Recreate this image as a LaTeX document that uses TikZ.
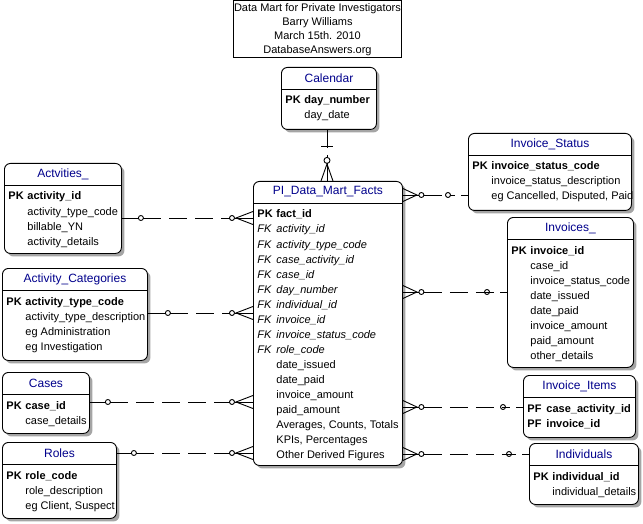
\documentclass[tikz,border=0pt]{standalone}
\usepackage{fontspec}
\setmainfont{Liberation Sans}
\usetikzlibrary{shadows,calc}
\definecolor{hdr}{RGB}{0,0,140}
\definecolor{shadowgray}{RGB}{165,165,165}
\newcommand{\rowfont}{\fontsize{11}{13}\selectfont}
\newcommand{\entity}[6]{%
  \node[entbox, minimum width=#4pt, minimum height=#5pt] (#1) at (#2,#3) {};
  \draw ([yshift=-22pt]#1.north west) -- ([yshift=-22pt]#1.north east);
  \node[enttitle] (#1-t) at ([yshift=-11pt]#1.north) {#6};
}
\newcommand{\keyrow}[5]{% box, index, key, name, font
  \node[rowtxt, font=\rowfont#5] (#1-k#2) at ([xshift=4pt, yshift={-22pt-15pt*#2}]#1.north west) {#3};
  \node[rowtxt, font=\rowfont#5] (#1-r#2) at ([xshift=23pt, yshift={-22pt-15pt*#2}]#1.north west) {#4};
}
\newcommand{\plainrow}[3]{% box, index, name
  \node[rowtxt, font=\rowfont] (#1-r#2) at ([xshift=23pt, yshift={-22pt-15pt*#2}]#1.north west) {#3};
}
% relation: parent on left, facts on right
\newcommand{\lrel}[3]{% parent, y coordinate, parent circle offset
  \coordinate (pa) at (#1.east |- #2);
  \coordinate (ch) at (facts.west |- #2);
  \draw (pa) -- ([xshift={#3pt-2.5pt}]pa);
  \draw ([xshift=#3pt]pa) circle[radius=2.5pt];
  \draw[reldash] ([xshift={#3pt+2.5pt}]pa) -- ([xshift=-23.5pt]ch);
  \draw ([xshift=-21pt]ch) circle[radius=2.5pt];
  \draw ([xshift=-18.5pt]ch) -- (ch);
  \draw ([yshift=6.5pt]ch) -- ([xshift=-17pt]ch) -- ([yshift=-6.5pt]ch);
}
% relation: facts on left, parent on right
\newcommand{\rrel}[2]{% parent, y coordinate
  \coordinate (ch) at (facts.east |- #2);
  \coordinate (pa) at (#1.west |- #2);
  \draw ([yshift=6.5pt]ch) -- ([xshift=14pt]ch) -- ([yshift=-6.5pt]ch);
  \draw (ch) -- ([xshift=16pt]ch);
  \draw ([xshift=18.5pt]ch) circle[radius=2.5pt];
  \draw[reldash] ([xshift=21pt]ch) -- ([xshift=-13pt]pa);
  \draw ([xshift=-20pt]pa) circle[radius=2.5pt];
  \draw ([xshift=-7pt]pa) -- (pa);
}
\begin{document}
\begin{tikzpicture}[x=1pt,y=-1pt,
  line width=0.9pt,
  entbox/.style={draw, rounded corners=6pt, fill=white, inner sep=0pt, anchor=north west,
    drop shadow={shadow xshift=3pt, shadow yshift=-3pt, fill=shadowgray, opacity=1}},
  enttitle/.style={text=hdr, font=\fontsize{12}{14}\selectfont, inner sep=0pt},
  rowtxt/.style={anchor=base west, inner sep=0pt},
  titlebox/.style={draw, fill=white, anchor=north west, inner sep=0pt, align=center,
    font=\fontsize{11}{14}\selectfont},
  reldash/.style={dash pattern=on 18pt off 8pt}]
\useasboundingbox (0,0) rectangle (643,524);
\fill[white] (0,0) rectangle (643,524);

\node[titlebox, minimum width=168pt, minimum height=57pt] (title) at (233,0.5)
  {Data Mart for Private Investigators\\Barry Williams\\March 15th. 2010\\DatabaseAnswers.org};

% entities
\entity{cal}{281}{67}{95}{62}{Calendar}
\keyrow{cal}{1}{PK}{day\_number}{\bfseries}
\plainrow{cal}{2}{day\_date}

\entity{act}{4}{163}{117}{90}{Actvities\_}
\keyrow{act}{1}{PK}{activity\_id}{\bfseries}
\plainrow{act}{2}{activity\_type\_code}
\plainrow{act}{3}{billable\_YN}
\plainrow{act}{4}{activity\_details}

\entity{facts}{253}{181}{149}{284}{PI\_Data\_Mart\_Facts}
\keyrow{facts}{1}{PK}{fact\_id}{\bfseries}
\keyrow{facts}{2}{FK}{activity\_id}{\itshape}
\keyrow{facts}{3}{FK}{activity\_type\_code}{\itshape}
\keyrow{facts}{4}{FK}{case\_activity\_id}{\itshape}
\keyrow{facts}{5}{FK}{case\_id}{\itshape}
\keyrow{facts}{6}{FK}{day\_number}{\itshape}
\keyrow{facts}{7}{FK}{individual\_id}{\itshape}
\keyrow{facts}{8}{FK}{invoice\_id}{\itshape}
\keyrow{facts}{9}{FK}{invoice\_status\_code}{\itshape}
\keyrow{facts}{10}{FK}{role\_code}{\itshape}
\plainrow{facts}{11}{date\_issued}
\plainrow{facts}{12}{date\_paid}
\plainrow{facts}{13}{invoice\_amount}
\plainrow{facts}{14}{paid\_amount}
\plainrow{facts}{15}{Averages, Counts, Totals}
\plainrow{facts}{16}{KPIs, Percentages}
\plainrow{facts}{17}{Other Derived Figures}

\entity{ist}{468}{133}{163}{77}{Invoice\_Status}
\keyrow{ist}{1}{PK}{invoice\_status\_code}{\bfseries}
\plainrow{ist}{2}{invoice\_status\_description}
\plainrow{ist}{3}{eg Cancelled, Disputed, Paid}

\entity{inv}{507}{217}{126}{150}{Invoices\_}
\keyrow{inv}{1}{PK}{invoice\_id}{\bfseries}
\plainrow{inv}{2}{case\_id}
\plainrow{inv}{3}{invoice\_status\_code}
\plainrow{inv}{4}{date\_issued}
\plainrow{inv}{5}{date\_paid}
\plainrow{inv}{6}{invoice\_amount}
\plainrow{inv}{7}{paid\_amount}
\plainrow{inv}{8}{other\_details}

\entity{acat}{2}{268}{145}{92}{Activity\_Categories}
\keyrow{acat}{1}{PK}{activity\_type\_code}{\bfseries}
\plainrow{acat}{2}{activity\_type\_description}
\plainrow{acat}{3}{eg Administration}
\plainrow{acat}{4}{eg Investigation}

\entity{cases}{2}{372}{87}{61}{Cases}
\keyrow{cases}{1}{PK}{case\_id}{\bfseries}
\plainrow{cases}{2}{case\_details}

\entity{roles}{2}{442}{114}{76}{Roles}
\keyrow{roles}{1}{PK}{role\_code}{\bfseries}
\plainrow{roles}{2}{role\_description}
\plainrow{roles}{3}{eg Client, Suspect}

\entity{items}{523}{375}{112}{62}{Invoice\_Items}
\keyrow{items}{1}{PF}{case\_activity\_id}{\bfseries}
\keyrow{items}{2}{PF}{invoice\_id}{\bfseries}

\entity{indiv}{529}{443}{109}{61}{Individuals}
\keyrow{indiv}{1}{PK}{individual\_id}{\bfseries}
\plainrow{indiv}{2}{individual\_details}

% calendar relation (vertical)
\coordinate (cx) at (327,0);
\coordinate (ctop) at (cal.south -| cx);
\coordinate (cbot) at (facts.north -| cx);
\draw (ctop) -- ([yshift=-18pt]ctop);
\draw ([xshift=-6pt,yshift=-17pt]ctop) -- ([xshift=6pt,yshift=-17pt]ctop);
\draw ([yshift=-25pt]ctop) -- ([yshift=-27.5pt]ctop);
\draw ([yshift=-30.5pt]ctop) circle[radius=3pt];
\draw ([yshift=-33.5pt]ctop) -- (cbot);
\draw ([xshift=-6pt]cbot) -- ([yshift=17pt]cbot) -- ([xshift=6pt]cbot);

% left relations
\coordinate (y1) at (0,218);
\coordinate (y2) at (0,313);
\coordinate (y3) at (0,402);
\coordinate (y4) at (0,453);
\lrel{act}{y1}{19}
\lrel{acat}{y2}{20}
\lrel{cases}{y3}{18}
\lrel{roles}{y4}{17}

% right relations
\coordinate (y5) at (0,195);
\coordinate (y6) at (0,292);
\coordinate (y7) at (0,407);
\coordinate (y8) at (0,454);
\rrel{ist}{y5}
\rrel{inv}{y6}
\rrel{items}{y7}
\rrel{indiv}{y8}
\end{tikzpicture}
\end{document}
